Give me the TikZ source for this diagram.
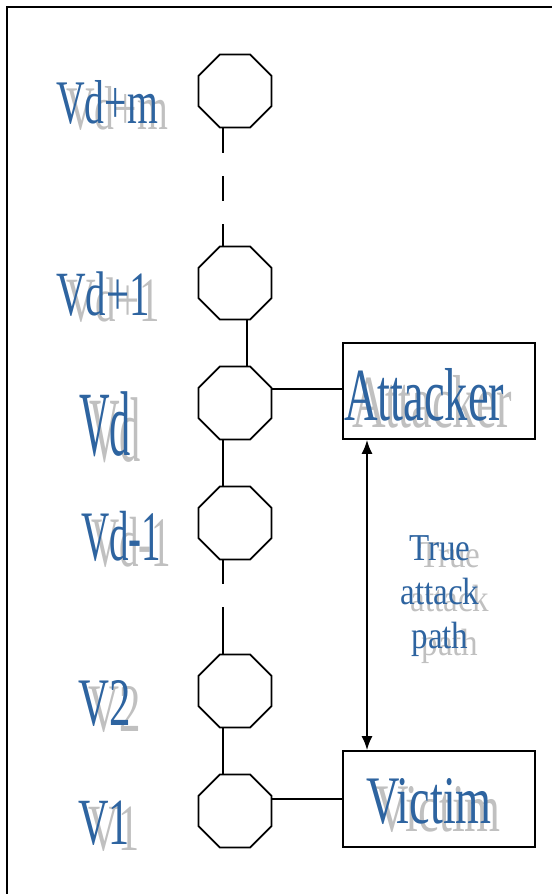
\documentclass[tikz,border=0pt]{standalone}
\usepackage{fontspec}
\setmainfont{Liberation Serif}
\usetikzlibrary{shapes.geometric, arrows.meta, positioning}
\definecolor{vblue}{RGB}{46,100,160}
\definecolor{vshadow}{RGB}{192,192,192}
\newcommand{\narrow}[2]{\scalebox{#1}[1]{#2}}

\begin{document}
\begin{tikzpicture}[x=1pt, y=-1pt,
    % Define styles
    vertex/.style={regular polygon, regular polygon sides=8, draw, line width=1.8pt, minimum size=79pt, inner sep=0pt},
    party/.style={rectangle, draw, line width=1.8pt, minimum width=192pt, minimum height=96pt, inner sep=0pt},
    lbl/.style={anchor=base west, inner sep=0pt, text=vblue, font=\fontsize{#1}{#1}\selectfont},
    shd/.style={lbl=#1, text=vshadow},
    line/.style={line width=1.8pt},
    gap/.style={line, dash pattern=on 25pt off 23pt},
    arrow/.style={line width=1.8pt, {Latex[length=14pt,width=11pt]}-{Latex[length=14pt,width=11pt]}}
]
\useasboundingbox (0,0) rectangle (552,894);

% Frame
\draw[line width=2.5pt] (7,894) -- (7,7) -- (552,7);

% Vertices of the chain
\node[vertex] (vdm) at (235,91) {};
\node[vertex] (vd1) at (235,283) {};
\node[vertex] (vd) at (235,403) {};
\node[vertex] (vdl) at (235,523) {};
\node[vertex] (v2) at (235,691) {};
\node[vertex] (v1) at (235,811) {};

% Attacker and victim
\node[party] (attacker) at (439,391) {};
\node[party] (victim) at (439,799) {};

% Vertex labels
\node[shd=62] (vdm-s) at (66,129) {\narrow{.64}{Vd+m}};
\node[lbl=62] (vdm-l) at (56,123) {\narrow{.64}{Vd+m}};
\node[shd=63] (vd1-s) at (66,321) {\narrow{.65}{Vd+1}};
\node[lbl=63] (vd1-l) at (56,315) {\narrow{.65}{Vd+1}};
\node[shd=92] (vd-s) at (89,461) {\narrow{.46}{Vd}};
\node[lbl=92] (vd-l) at (79,455) {\narrow{.46}{Vd}};
\node[shd=71] (vdl-s) at (91,566) {\narrow{.55}{Vd-1}};
\node[lbl=71] (vdl-l) at (81,560) {\narrow{.55}{Vd-1}};
\node[shd=68] (v2-s) at (88,731) {\narrow{.63}{V2}};
\node[lbl=68] (v2-l) at (78,725) {\narrow{.63}{V2}};
\node[shd=66] (v1-s) at (88,850) {\narrow{.64}{V1}};
\node[lbl=66] (v1-l) at (78,844) {\narrow{.64}{V1}};

% Party labels
\node[shd=75] (attacker-s) at (352,427) {\narrow{.62}{Attacker}};
\node[lbl=75] (attacker-l) at (344,420) {\narrow{.62}{Attacker}};
\node[shd=68] (victim-s) at (375,831) {\narrow{.68}{Victim}};
\node[lbl=68] (victim-l) at (366,823) {\narrow{.68}{Victim}};

% Path label
\node[shd=38, anchor=north, align=center, font=\fontsize{38}{44}\selectfont] (path-s) at (450,542)
    {\narrow{.87}{True}\\\narrow{.87}{attack}\\\narrow{.87}{path}};
\node[lbl=38, anchor=north, align=center, font=\fontsize{38}{44}\selectfont] (path-l) at (440,535)
    {\narrow{.87}{True}\\\narrow{.87}{attack}\\\narrow{.87}{path}};

% Chain links
\draw[gap] (vdm.-108) -- (vd1.108);
\draw[line] (vd1.-72) -- (vd.72);
\draw[line] (vd.-108) -- (vdl.108);
\draw[line, dash pattern=on 24pt off 23pt on 49pt] (vdl.-108) -- (v2.108);
\draw[line] (v2.-108) -- (v1.108);

% Links to the parties
\draw[line] (vd.20) -- (vd.20 -| attacker.west);
\draw[line] (v1.18) -- (v1.18 -| victim.west);

% True attack path
\coordinate (pathx) at (367,0);
\draw[arrow] (attacker.south -| pathx) -- (victim.north -| pathx);

\end{tikzpicture}
\end{document}
